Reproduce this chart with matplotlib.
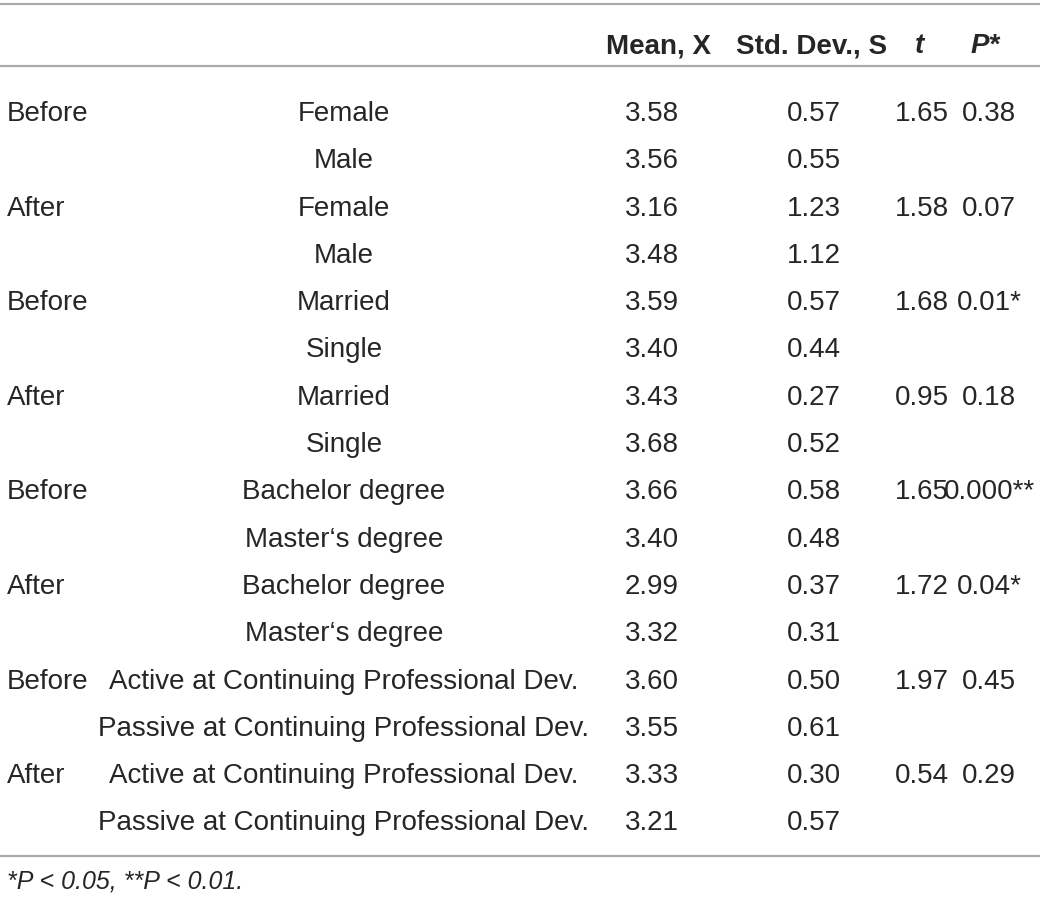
import matplotlib
matplotlib.use("Agg")
import matplotlib.pyplot as plt

plt.rcParams['font.family'] = ['Liberation Sans', 'DejaVu Sans']

# table data
headers = ["Mean, X", "Std. Dev., S", "t", "P*"]
phase = ["Before", "", "After", "", "Before", "", "After", "",
         "Before", "", "After", "", "Before", "", "After", ""]
group = ["Female", "Male", "Female", "Male",
         "Married", "Single", "Married", "Single",
         "Bachelor degree", "Master\u2018s degree", "Bachelor degree", "Master\u2018s degree",
         "Active at Continuing Professional Dev.", "Passive at Continuing Professional Dev.",
         "Active at Continuing Professional Dev.", "Passive at Continuing Professional Dev."]
mean = ["3.58", "3.56", "3.16", "3.48", "3.59", "3.40", "3.43", "3.68",
        "3.66", "3.40", "2.99", "3.32", "3.60", "3.55", "3.33", "3.21"]
std = ["0.57", "0.55", "1.23", "1.12", "0.57", "0.44", "0.27", "0.52",
       "0.58", "0.48", "0.37", "0.31", "0.50", "0.61", "0.30", "0.57"]
t_val = ["1.65", "", "1.58", "", "1.68", "", "0.95", "",
         "1.65", "", "1.72", "", "1.97", "", "0.54", ""]
p_val = ["0.38", "", "0.07", "", "0.01*", "", "0.18", "",
         "0.000**", "", "0.04*", "", "0.45", "", "0.29", ""]
footnote = "*P < 0.05, **P < 0.01."

W, H = 1040, 904
fig = plt.figure(figsize=(W / 100, H / 100), dpi=100)
ax = fig.add_axes([0, 0, 1, 1])
ax.set_xlim(0, W)
ax.set_ylim(H, 0)
ax.axis("off")

txt = "#262626"
fs = 20
line_c = "#aaaaaa"

# rules
for y in [5, 67, 857]:
    ax.plot([0, W], [y, y], color=line_c, lw=1.6, solid_capstyle="butt")

# header
hy = 46
ax.text(658, hy, headers[0], ha="center", va="center", fontsize=fs, fontweight="bold", color=txt)
ax.text(812, hy, headers[1], ha="center", va="center", fontsize=fs, fontweight="bold", color=txt)
ax.text(919, hy, headers[2], ha="center", va="center", fontsize=fs, fontweight="bold",
        fontstyle="italic", color=txt)
ax.text(985, hy, headers[3], ha="center", va="center", fontsize=fs, fontweight="bold",
        fontstyle="italic", color=txt)

# body
y0, dy = 114, 47.3
for i in range(len(group)):
    y = y0 + i * dy
    ax.text(7, y, phase[i], ha="left", va="center", fontsize=fs, color=txt)
    ax.text(344, y, group[i], ha="center", va="center", fontsize=fs, color=txt)
    ax.text(652, y, mean[i], ha="center", va="center", fontsize=fs, color=txt)
    ax.text(814, y, std[i], ha="center", va="center", fontsize=fs, color=txt)
    ax.text(922, y, t_val[i], ha="center", va="center", fontsize=fs, color=txt)
    ax.text(989, y, p_val[i], ha="center", va="center", fontsize=fs, color=txt)

ax.text(7, 882, footnote, ha="left", va="center", fontsize=fs * 0.9,
        fontstyle="italic", color=txt)

fig.savefig("out.png", dpi=100)
